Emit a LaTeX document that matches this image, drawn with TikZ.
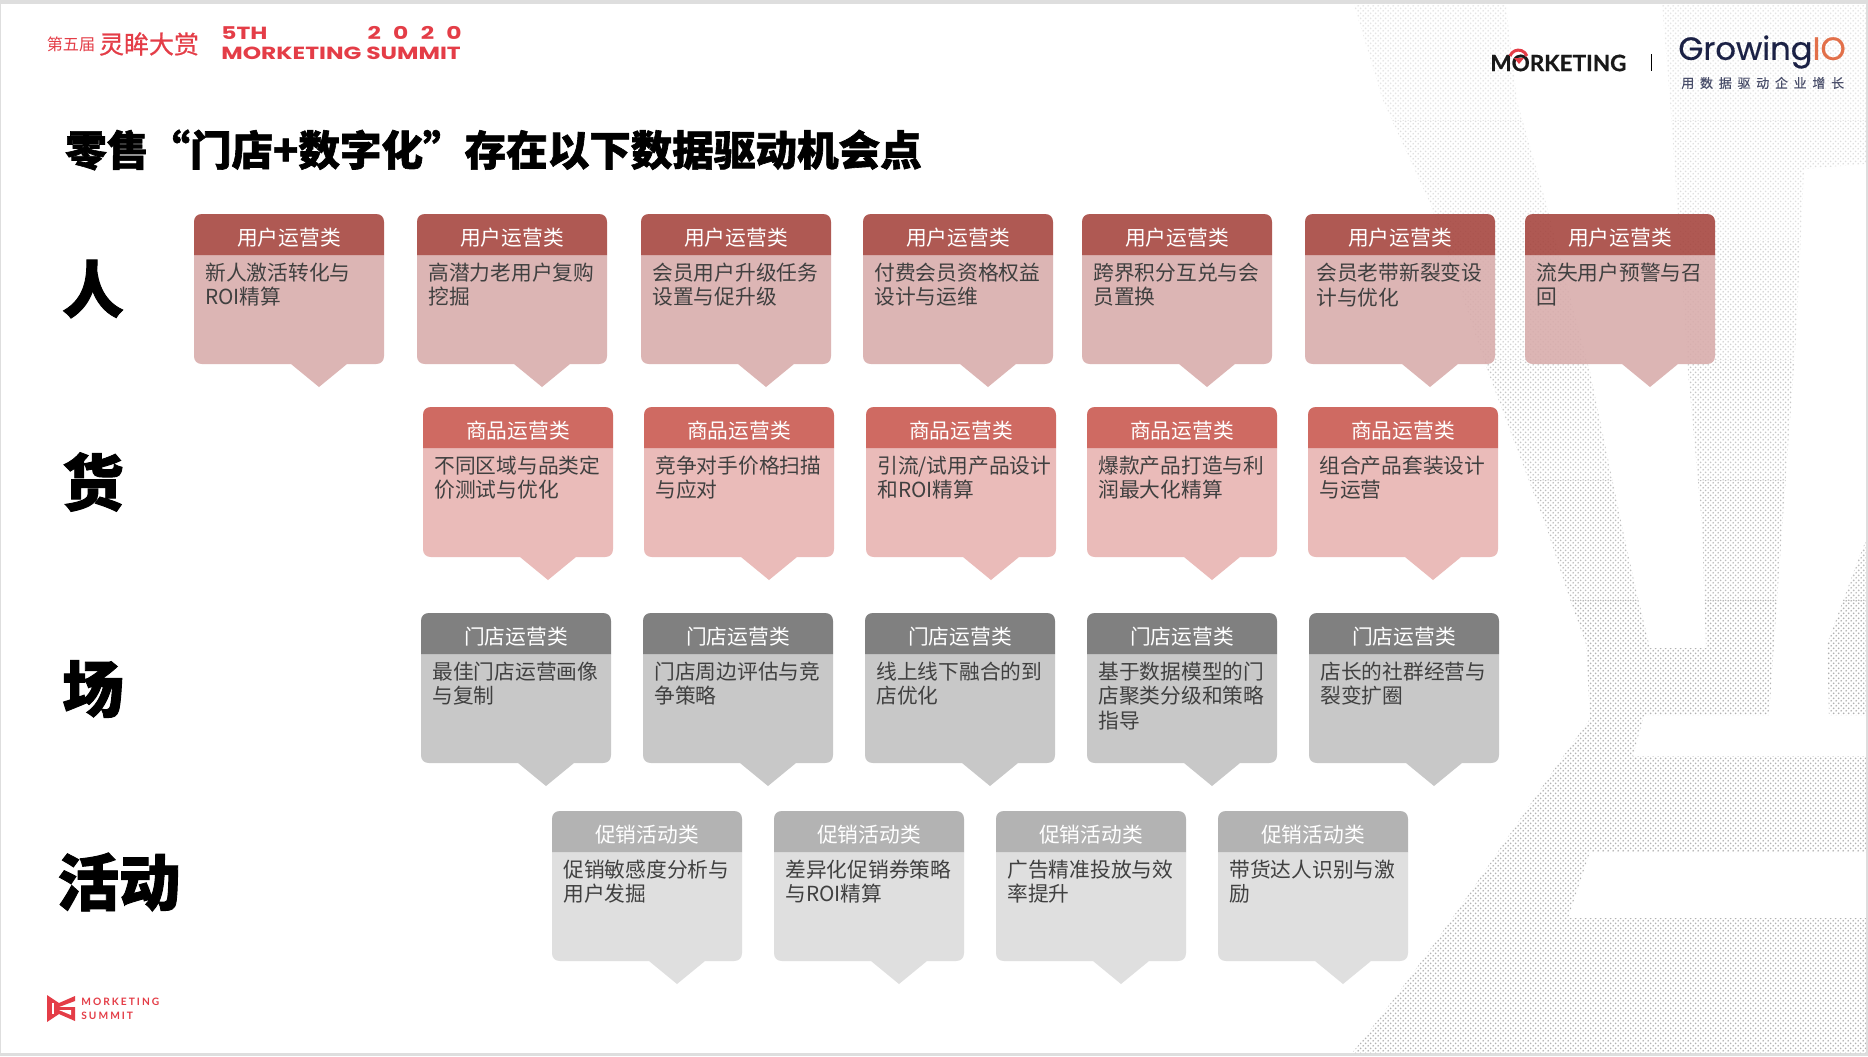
\documentclass[tikz,border=0pt]{standalone}
\usepackage{fontspec}
\usetikzlibrary{patterns}
\setmainfont{Noto Sans CJK SC}
\newfontfamily\heavyfont[FakeBold=1.5]{Noto Sans CJK SC}
\newfontfamily\awardfont[FakeBold=0.7]{Noto Sans CJK SC}
\newfontfamily\popfont[FakeStretch=1.33]{Poppins}
\newfontfamily\latofont[FakeBold=0.6]{Lato}
\newfontfamily\growfont[FakeBold=0.5]{Poppins}
\newfontfamily\sloganfont[LetterSpace=44,FakeBold=0.3]{Noto Sans CJK SC}
\newfontfamily\footfont[LetterSpace=20]{Lato}
\definecolor{summitred}{HTML}{E43D47}
\definecolor{grownavy}{HTML}{1B2145}
\definecolor{groworange}{HTML}{E2704A}
\definecolor{boxtext}{HTML}{404040}
\definecolor{peoplehead}{RGB}{162,61,54}
\definecolor{peoplebody}{RGB}{215,169,168}
\definecolor{goodshead}{HTML}{CF6A62}
\definecolor{goodsbody}{HTML}{EABBB9}
\definecolor{storehead}{HTML}{808080}
\definecolor{storebody}{HTML}{C8C8C8}
\definecolor{promohead}{HTML}{B3B3B3}
\definecolor{promobody}{HTML}{DFDFDF}
\pgfdeclarepatternformonly{halfdots}{\pgfqpoint{0pt}{0pt}}{\pgfqpoint{2.8pt}{2.8pt}}{\pgfqpoint{2.8pt}{2.8pt}}{
	\pgfpathcircle{\pgfqpoint{0.7pt}{0.7pt}}{0.55pt}
	\pgfpathcircle{\pgfqpoint{2.1pt}{2.1pt}}{0.55pt}
	\pgfusepath{fill}
}
\tikzset{
	headtext/.style={font=\fontsize{11.8pt}{14pt}\selectfont, text=white},
	bodytext/.style={font=\fontsize{11.8pt}{13.7pt}\selectfont, text=boxtext, align=left, anchor=north west, inner sep=0pt},
	rowlabel/.style={font=\heavyfont\bfseries\fontsize{35pt}{37pt}\selectfont, text=black},
	redline/.style={text=summitred, font=\popfont\bfseries\fontsize{10pt}{11pt}\selectfont, inner sep=0pt},
	footline/.style={font=\footfont\bfseries\fontsize{5.8pt}{6pt}\selectfont, text=summitred, anchor=west, inner sep=0pt},
}
% one callout: name, left, top, head colour, body colour, opacity, head text, body text
\newcommand{\opbox}[8]{
	\fill[#5, fill opacity=#6]
		(#2, #3+41) -- (#2+190, #3+41) -- (#2+190, #3+142)
		.. controls (#2+190, #3+147) and (#2+187, #3+150) .. (#2+182, #3+150)
		-- (#2+153, #3+150) -- (#2+125, #3+173) -- (#2+97, #3+150) -- (#2+8, #3+150)
		.. controls (#2+3, #3+150) and (#2, #3+147) .. (#2, #3+142) -- cycle;
	\fill[#4, fill opacity=#6]
		(#2, #3+41) -- (#2, #3+8)
		.. controls (#2, #3+3) and (#2+3, #3) .. (#2+8, #3)
		-- (#2+182, #3)
		.. controls (#2+187, #3) and (#2+190, #3+3) .. (#2+190, #3+8)
		-- (#2+190, #3+41) -- cycle;
	\node[headtext] (#1h) at (#2+95, #3+24) {#7};
	\node[bodytext] (#1t) at (#2+11, #3+49) {#8};
}
\begin{document}
\begin{tikzpicture}[x=0.02cm, y=-0.02cm]
	\useasboundingbox (0, 0) rectangle (1868, 1056);
	\fill[black!13] (0, 0) rectangle (1868, 1056);
	\fill[white] (1, 4) rectangle (1866, 1053);

	%%%%% dots behind %%%%%
	\foreach \ya/\yb/\shade in {4/120/10, 120/240/13, 240/360/17, 360/480/22, 480/600/26, 600/1053/30}{
		\begin{scope}
			\clip (0, \ya) rectangle (1866, \yb);
			\fill[pattern=halfdots, pattern color=black!\shade]
				(1354, 5) -- (1383, 101) -- (1430, 203) -- (1488, 372) -- (1546, 526) -- (1568, 594) -- (1586, 644) -- (1590, 719)
				.. controls (1530, 800) and (1450, 930) .. (1352, 1053)
				-- (1866, 1053) -- (1866, 918) -- (1568, 918) -- (1590, 852) -- (1866, 852) -- (1866, 756) -- (1633, 756) -- (1644, 715)
				-- (1769, 715) -- (1782, 530) -- (1796, 338) -- (1804, 169) -- (1866, 164) -- (1866, 5)
				-- (1662, 5) -- (1670, 101) -- (1677, 203) -- (1688, 372) -- (1702, 526) -- (1706, 648) -- (1650, 648)
				-- (1637, 594) -- (1622, 526) -- (1590, 372) -- (1546, 203) -- (1517, 101) -- (1506, 5) -- cycle;
			\fill[pattern=halfdots, pattern color=black!\shade]
				(1866, 540) -- (1858, 560) -- (1827, 644) -- (1829, 715) -- (1866, 715) -- cycle;
		\end{scope}
	}

	%%%%% header %%%%%
	\node[text=summitred, font=\fontsize{9.2pt}{10pt}\selectfont] (fifth) at (71, 44) {第五届};
	\node[text=summitred, font=\awardfont\fontsize{14.2pt}{15pt}\selectfont] (award) at (149, 44) {灵眸大赏};
	\node[redline, anchor=west] (five) at (221, 33) {5TH};
	\node[redline, anchor=east] (year) at (462, 33) {2\hspace{7pt}0\hspace{7pt}2\hspace{7pt}0};
	\node[redline, anchor=west] (summit) at (221, 53) {MORKETING SUMMIT};

	\node[font=\latofont\bfseries\fontsize{12.8pt}{14pt}\selectfont, text=black!90, anchor=west, inner sep=0pt] (mkt) at (1490, 63) {MORKETING};
	\draw[summitred, line width=1.7pt] (1510, 56) arc (200:340:9);
	\fill[summitred] (1514, 58) -- (1524, 58) -- (1519, 64) -- cycle;
	\fill[black] (1650.5, 54) rectangle (1652, 71);
	\node[font=\growfont\fontsize{18.3pt}{20pt}\selectfont, anchor=west, inner sep=0pt] (grow) at (1678, 52) {\textcolor{grownavy}{Growing}\textcolor{groworange}{IO}};
	\node[font=\sloganfont\fontsize{7.4pt}{8pt}\selectfont, text=grownavy!80, anchor=west, inner sep=0pt] (slogan) at (1681, 83) {用数据驱动企业增长};

	\node[font=\heavyfont\bfseries\fontsize{23.65pt}{25pt}\selectfont, anchor=west, inner sep=0pt] (title) at (65, 150) {零售“门店+数字化”存在以下数据驱动机会点};

	%%%%% rows %%%%%
	\node[rowlabel] (ren) at (93, 289) {人};
	\node[rowlabel] (huo) at (93, 482) {货};
	\node[rowlabel] (chang) at (93, 689) {场};
	\node[rowlabel] (huodong) at (119, 882) {活动};

	\opbox{a1}{194}{214}{peoplehead}{peoplebody}{0.85}{用户运营类}{新人激活转化与\\ROI精算}
	\opbox{a2}{417}{214}{peoplehead}{peoplebody}{0.85}{用户运营类}{高潜力老用户复购\\挖掘}
	\opbox{a3}{641}{214}{peoplehead}{peoplebody}{0.85}{用户运营类}{会员用户升级任务\\设置与促升级}
	\opbox{a4}{863}{214}{peoplehead}{peoplebody}{0.85}{用户运营类}{付费会员资格权益\\设计与运维}
	\opbox{a5}{1082}{214}{peoplehead}{peoplebody}{0.85}{用户运营类}{跨界积分互兑与会\\员置换}
	\opbox{a6}{1305}{214}{peoplehead}{peoplebody}{0.85}{用户运营类}{会员老带新裂变设\\计与优化}
	\opbox{a7}{1525}{214}{peoplehead}{peoplebody}{0.85}{用户运营类}{流失用户预警与召\\回}

	\opbox{b1}{423}{407}{goodshead}{goodsbody}{1}{商品运营类}{不同区域与品类定\\价测试与优化}
	\opbox{b2}{644}{407}{goodshead}{goodsbody}{1}{商品运营类}{竞争对手价格扫描\\与应对}
	\opbox{b3}{866}{407}{goodshead}{goodsbody}{1}{商品运营类}{引流/试用产品设计\\和ROI精算}
	\opbox{b4}{1087}{407}{goodshead}{goodsbody}{1}{商品运营类}{爆款产品打造与利\\润最大化精算}
	\opbox{b5}{1308}{407}{goodshead}{goodsbody}{1}{商品运营类}{组合产品套装设计\\与运营}

	\opbox{c1}{421}{613}{storehead}{storebody}{1}{门店运营类}{最佳门店运营画像\\与复制}
	\opbox{c2}{643}{613}{storehead}{storebody}{1}{门店运营类}{门店周边评估与竞\\争策略}
	\opbox{c3}{865}{613}{storehead}{storebody}{1}{门店运营类}{线上线下融合的到\\店优化}
	\opbox{c4}{1087}{613}{storehead}{storebody}{1}{门店运营类}{基于数据模型的门\\店聚类分级和策略\\指导}
	\opbox{c5}{1309}{613}{storehead}{storebody}{1}{门店运营类}{店长的社群经营与\\裂变扩圈}

	\opbox{d1}{552}{811}{promohead}{promobody}{1}{促销活动类}{促销敏感度分析与\\用户发掘}
	\opbox{d2}{774}{811}{promohead}{promobody}{1}{促销活动类}{差异化促销券策略\\与ROI精算}
	\opbox{d3}{996}{811}{promohead}{promobody}{1}{促销活动类}{广告精准投放与效\\率提升}
	\opbox{d4}{1218}{811}{promohead}{promobody}{1}{促销活动类}{带货达人识别与激\\励}

	%%%%% footer %%%%%
	\fill[summitred] (47, 995) -- (59, 1003) -- (75, 996) -- (75, 1001) -- (59, 1007) -- (75, 1007) -- (75, 1021) -- (59, 1014) -- (47, 1022) -- cycle;
	\fill[white] (52, 1003) rectangle (54, 1014);
	\fill[white] (59, 1010) -- (71, 1010) -- (71, 1015) -- cycle;
	\node[footline] (foota) at (81, 1002) {MORKETING};
	\node[footline] (footb) at (81, 1016) {SUMMIT};
\end{tikzpicture}
\end{document}
